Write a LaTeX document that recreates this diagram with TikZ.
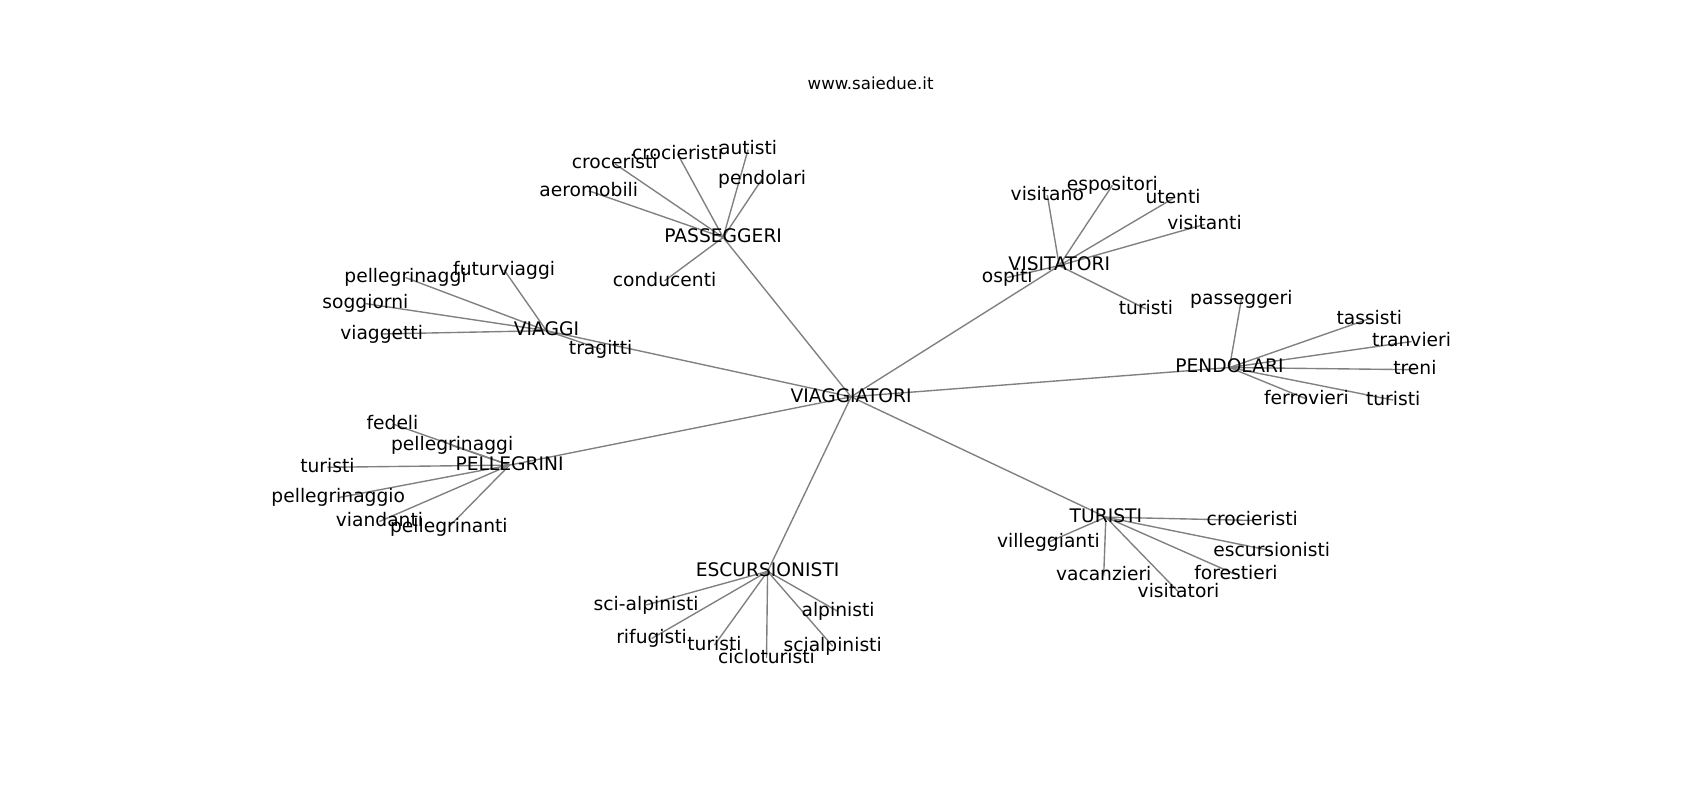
\documentclass[tikz,border=0pt]{standalone}
\usepackage{fontspec}
\setmainfont{DejaVu Sans}
\usetikzlibrary{backgrounds}

\tikzset{
  word/.style={inner sep=0pt, text height=0.88em, text depth=0.12em,
    font=\fontsize{13.5}{15}\selectfont},
  link/.style={draw=gray, line width=1pt},
}

\begin{document}
\begin{tikzpicture}[x=0.02754cm, y=-0.02754cm]
		\useasboundingbox (0,0) rectangle (1568,738);
		\node[word, font=\fontsize{12}{14}\selectfont] (title) at (803,78) {www.saiedue.it};

		% centro e gruppi
		\node[word] (viag) at (785,366) {VIAGGIATORI};
		\node[word] (pass) at (667,219) {PASSEGGERI};
		\node[word] (vg) at (504,305) {VIAGGI};
		\node[word] (pell) at (470,429) {PELLEGRINI};
		\node[word] (escu) at (708,527) {ESCURSIONISTI};
		\node[word] (visi) at (977,245) {VISITATORI};
		\node[word] (pend) at (1134,339) {PENDOLARI};
		\node[word] (turi) at (1020,477) {TURISTI};

		% PASSEGGERI
		\node[word] (pa1) at (567,151) {croceristi};
		\node[word] (pa2) at (625,142) {crocieristi};
		\node[word] (pa3) at (690,138) {autisti};
		\node[word] (pa4) at (703,165) {pendolari};
		\node[word] (pa5) at (543,176) {aeromobili};
		\node[word] (pa6) at (613,259) {conducenti};

		% VIAGGI
		\node[word] (vg1) at (465,249) {futurviaggi};
		\node[word] (vg2) at (374,256) {pellegrinaggi};
		\node[word] (vg3) at (337,280) {soggiorni};
		\node[word] (vg4) at (352,308) {viaggetti};
		\node[word] (vg5) at (554,322) {tragitti};

		% PELLEGRINI
		\node[word] (pe1) at (362,391) {fedeli};
		\node[word] (pe2) at (417,411) {pellegrinaggi};
		\node[word] (pe3) at (302,431) {turisti};
		\node[word] (pe4) at (312,459) {pellegrinaggio};
		\node[word] (pe5) at (350,481) {viandanti};
		\node[word] (pe6) at (414,486) {pellegrinanti};

		% ESCURSIONISTI
		\node[word] (es1) at (596,558) {sci-alpinisti};
		\node[word] (es2) at (601,589) {rifugisti};
		\node[word] (es3) at (659,595) {turisti};
		\node[word] (es4) at (707,607) {cicloturisti};
		\node[word] (es5) at (768,596) {scialpinisti};
		\node[word] (es6) at (773,564) {alpinisti};

		% VISITATORI
		\node[word] (vi1) at (966,180) {visitano};
		\node[word] (vi2) at (1026,171) {espositori};
		\node[word] (vi3) at (1082,183) {utenti};
		\node[word] (vi4) at (1111,207) {visitanti};
		\node[word] (vi5) at (929,256) {ospiti};
		\node[word] (vi6) at (1057,285) {turisti};

		% PENDOLARI
		\node[word] (po1) at (1145,276) {passeggeri};
		\node[word] (po2) at (1263,294) {tassisti};
		\node[word] (po3) at (1302,315) {tranvieri};
		\node[word] (po4) at (1305,341) {treni};
		\node[word] (po5) at (1285,369) {turisti};
		\node[word] (po6) at (1205,368) {ferrovieri};

		% TURISTI
		\node[word] (tu1) at (1155,480) {crocieristi};
		\node[word] (tu2) at (967,500) {villeggianti};
		\node[word] (tu3) at (1173,508) {escursionisti};
		\node[word] (tu4) at (1018,531) {vacanzieri};
		\node[word] (tu5) at (1140,530) {forestieri};
		\node[word] (tu6) at (1087,546) {visitatori};

		\begin{pgfonlayer}{background}
		\foreach \h in {pass,vg,pell,escu,visi,pend,turi}
			\draw[link] (viag.center) to (\h.center);
		\foreach \n in {1,...,6} {
			\draw[link] (pass.center) to (pa\n.center);
			\draw[link] (pell.center) to (pe\n.center);
			\draw[link] (escu.center) to (es\n.center);
			\draw[link] (visi.center) to (vi\n.center);
			\draw[link] (pend.center) to (po\n.center);
			\draw[link] (turi.center) to (tu\n.center);
		}
		\foreach \n in {1,...,5}
			\draw[link] (vg.center) to (vg\n.center);
		\end{pgfonlayer}

	\end{tikzpicture}
\end{document}
